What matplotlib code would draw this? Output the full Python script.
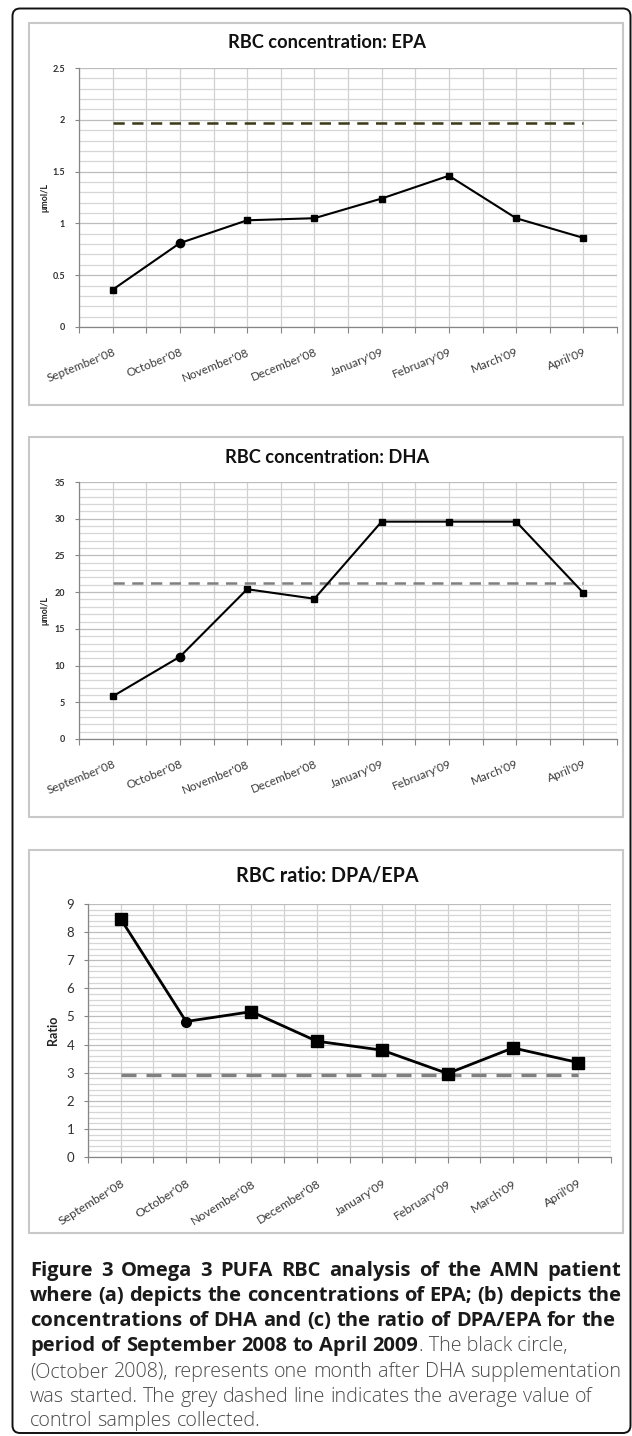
import matplotlib
matplotlib.use('Agg')
import matplotlib.pyplot as plt
from matplotlib.patches import Rectangle, FancyBboxPatch
from matplotlib.ticker import MultipleLocator, FuncFormatter
import numpy as np

W, H = 632, 1436

# ---------------- data ----------------
months = ["September'08", "October'08", "November'08", "December'08",
          "January'09", "February'09", "March'09", "April'09"]
epa = [0.36, 0.81, 1.03, 1.05, 1.24, 1.46, 1.05, 0.86]
epa_control = 1.97
dha = [5.8, 11.2, 20.4, 19.1, 29.6, 29.6, 29.6, 19.9]
dha_control = 21.3
ratio = [8.47, 4.82, 5.17, 4.12, 3.80, 2.97, 3.88, 3.36]
ratio_control = 2.92
circle_month = "October'08"

titles = ["RBC concentration: EPA", "RBC concentration: DHA", "RBC ratio: DPA/EPA"]
ylabels = ["\u03bcmol/L", "\u03bcmol/L", "Ratio"]

caption_bold = ["Figure 3 Omega 3 PUFA RBC analysis of the AMN patient",
                "where (a) depicts the concentrations of EPA; (b) depicts the",
                "concentrations of DHA and (c) the ratio of DPA/EPA for the",
                "period of September 2008 to April 2009"]
caption_regular = [". The black circle,",
                   "(October 2008), represents one month after DHA supplementation",
                   "was started. The grey dashed line indicates the average value of",
                   "control samples collected."]

CHART_FONT = ['Lato', 'DejaVu Sans']
CAP_FONT = ['Open Sans', 'DejaVu Sans']

fig = plt.figure(figsize=(W / 100, H / 100), dpi=100)
fig.patch.set_facecolor('white')


def fbox(l, t, r, b):
    return [l / W, 1 - b / H, (r - l) / W, (b - t) / H]


def fx(x):
    return x / W


def fy(y):
    return 1 - y / H


# outer rounded frame
frame = FancyBboxPatch((fx(12.5), fy(1433)), fx(630.5) - fx(12.5), fy(8.5) - fy(1433),
                       boxstyle="round,pad=0,rounding_size=0.012",
                       transform=fig.transFigure, fill=False, ec='#111111', lw=1.4,
                       mutation_aspect=W / H)
fig.add_artist(frame)

# chart boxes
for (l, t, r, b) in [(29, 23, 623, 405), (29, 437, 623, 817), (29, 850, 623, 1233)]:
    fig.add_artist(Rectangle((fx(l), fy(b)), fx(r) - fx(l), fy(t) - fy(b),
                             transform=fig.transFigure, fill=False,
                             ec='#c8c8c8', lw=1.5))

fig.canvas.draw()
renderer = fig.canvas.get_renderer()


def measure(text, size, family, weight):
    t = fig.text(0, 0, text, fontsize=size, family=family, weight=weight)
    w = t.get_window_extent(renderer=renderer).width
    t.remove()
    return w


def fit_size(text, target_px, family, weight, size0=12.0):
    return size0 * target_px / measure(text, size0, family, weight)


def panel(rect, vals, ctrl, ylim, major, minor, ctrl_color, ctrl_lw, lw, ms_sq, ms_c,
          ytick_size, ytick_weight, ylabel, ylabel_size, ylabel_x, xtick_size, fmt,
          xrot, xpad):
    ax = fig.add_axes(fbox(*rect))
    n = len(months)
    x = np.arange(n)
    ax.set_xlim(-0.5, n - 0.5)
    ax.set_ylim(*ylim)
    ax.set_facecolor('white')
    ax.yaxis.set_major_locator(MultipleLocator(major))
    ax.yaxis.set_minor_locator(MultipleLocator(minor))
    xt = np.arange(-0.5, n, 0.5)
    ax.set_xticks(xt)
    labs = []
    for v in xt:
        labs.append(months[int(v)] if abs(v - round(v)) < 1e-9 else '')
    ax.set_xticklabels(labs, rotation=xrot, ha='right', va='top', rotation_mode='anchor',
                       fontsize=xtick_size, family=CHART_FONT, color='#3a3a3a')
    ax.tick_params(axis='x', length=4, width=0.8, color='#868686', pad=xpad)
    ax.tick_params(axis='y', which='major', length=3, width=0.8, color='#868686', pad=7,
                   labelsize=ytick_size, labelcolor='#303030')
    ax.tick_params(axis='y', which='minor', length=0)
    ax.yaxis.set_major_formatter(FuncFormatter(fmt))
    for lab in ax.get_yticklabels():
        lab.set_fontweight(ytick_weight)
        lab.set_family(CHART_FONT)
    ax.grid(True, axis='y', which='major', color='#bdbdbd', lw=0.9)
    ax.grid(True, axis='y', which='minor', color='#d6d6d6', lw=0.9)
    ax.grid(True, axis='x', which='major', color='#d0d0d0', lw=0.9)
    ax.set_axisbelow(True)
    for s in ['top', 'right']:
        ax.spines[s].set_visible(False)
    for s in ['left', 'bottom']:
        ax.spines[s].set_color('#868686')
        ax.spines[s].set_linewidth(0.9)
    ax.plot([x[0], x[-1]], [ctrl, ctrl], color=ctrl_color, lw=ctrl_lw,
            dashes=(4.5, 3), zorder=3)
    ax.plot(x, vals, color='black', lw=lw, zorder=4)
    ci = months.index(circle_month)
    sq = [i for i in range(n) if i != ci]
    ax.plot(x[sq], np.array(vals)[sq], ls='none', marker='s', ms=ms_sq, color='black', zorder=5)
    ax.plot([x[ci]], [vals[ci]], ls='none', marker='o', ms=ms_c, color='black', zorder=5)
    fig.text(fx(ylabel_x), fy((rect[1] + rect[3]) / 2), ylabel, rotation=90,
             ha='center', va='center', fontsize=ylabel_size, weight='bold',
             family=CHART_FONT, color='#222222')
    return ax


def fmt_epa(v, p):
    return '%g' % round(v, 2)


def fmt_int(v, p):
    return '%d' % round(v)


panel((79, 68, 617, 327), epa, epa_control, (0, 2.5), 0.5, 0.1, '#3b3915', 1.8, 1.5, 5, 6,
      6.5, 'bold', ylabels[0], 6.5, 45, 8.5, fmt_epa, 22, 10)
panel((79, 482, 617, 739), dha, dha_control, (0, 35), 5, 1, '#808080', 1.8, 1.5, 5, 6,
      6.5, 'bold', ylabels[1], 6.5, 45, 8.5, fmt_int, 22, 10)
panel((88, 904, 611, 1157), ratio, ratio_control, (0, 9), 1, 0.2, '#808080', 2.4, 2.0, 8, 7,
      9.5, 'normal', ylabels[2], 9, 53, 8.8, fmt_int, 32, 11)

# titles
ts = fit_size(titles[0], 197, CHART_FONT, 'bold')
fig.text(fx(327), fy(43), titles[0], ha='center', va='center', fontsize=ts,
         weight='bold', family=CHART_FONT, color='#111111')
fig.text(fx(327), fy(457), titles[1], ha='center', va='center', fontsize=ts,
         weight='bold', family=CHART_FONT, color='#111111')
ts3 = fit_size(titles[2], 181, CHART_FONT, 'bold')
fig.text(fx(327), fy(875), titles[2], ha='center', va='center', fontsize=ts3,
         weight='bold', family=CHART_FONT, color='#111111')

# caption
bs = fit_size(caption_bold[1], 588, CAP_FONT, 'bold')
rs = fit_size(caption_regular[1], 591, CAP_FONT, 'light')
line_y = [1271, 1296, 1321, 1346, 1372, 1397, 1421]
BOLD_C = '#1a1a1a'
REG_C = '#4a4a4a'


def draw_line(text, y, size, weight, color, x0=30, target=None):
    words = text.split(' ')
    widths = [measure(w, size, CAP_FONT, weight) for w in words]
    space = measure('a a', size, CAP_FONT, weight) - measure('aa', size, CAP_FONT, weight)
    if target is not None and len(words) > 1:
        gap = (target - sum(widths)) / (len(words) - 1)
    else:
        gap = space
    x = x0
    for w, wd in zip(words, widths):
        fig.text(fx(x), fy(y), w, ha='left', va='baseline', fontsize=size,
                 weight=weight, family=CAP_FONT, color=color)
        x += wd + gap
    return x - gap


base_off = 5
draw_line(caption_bold[0], line_y[0] + base_off, bs, 'bold', BOLD_C, target=591)
draw_line(caption_bold[1], line_y[1] + base_off, bs, 'bold', BOLD_C, target=591)
draw_line(caption_bold[2], line_y[2] + base_off, bs, 'bold', BOLD_C, target=586)
end = draw_line(caption_bold[3], line_y[3] + base_off, bs, 'bold', BOLD_C)
fig.text(fx(end + 0.5), fy(line_y[3] + base_off), caption_regular[0], ha='left', va='baseline',
         fontsize=rs, weight='light', family=CAP_FONT, color=REG_C)
draw_line(caption_regular[1], line_y[4] + base_off, rs, 'light', REG_C, target=591)
draw_line(caption_regular[2], line_y[5] + base_off, rs, 'light', REG_C)
draw_line(caption_regular[3], line_y[6] + base_off, rs, 'light', REG_C)

fig.savefig('out.png', dpi=100, facecolor='white')
